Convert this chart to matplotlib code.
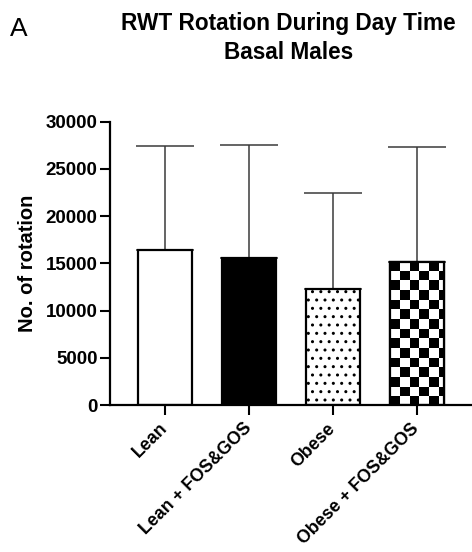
import numpy as np
import matplotlib
matplotlib.use('Agg')
import matplotlib.pyplot as plt

plt.rcParams['font.family'] = ['Liberation Sans', 'DejaVu Sans']
plt.rcParams['hatch.linewidth'] = 1.0

# values
groups = ['Lean', 'Lean + FOS&GOS', 'Obese', 'Obese + FOS&GOS']
means = [16400, 15550, 12250, 15150]
err_tops = [27450, 27550, 22500, 27350]
yticks = [0, 5000, 10000, 15000, 20000, 25000, 30000]

fig = plt.figure(figsize=(4.72, 5.52), dpi=100)
ax = fig.add_axes([0.233, 0.2663, 0.767, 0.5132])

x = np.arange(len(groups))
width = 0.645
errs = [t - m for t, m in zip(err_tops, means)]

# error bars (upper only)
ax.errorbar(x, means, yerr=[np.zeros(len(means)), errs], fmt='none',
            ecolor='#3a3a3a', elinewidth=1.1, capsize=21, capthick=1.1, zorder=1)

faces = ['white', 'black', 'white', 'white']
hatches = [None, None, '..', None]
bars = ax.bar(x, means, width=width, color=faces, edgecolor='black',
              linewidth=1.6, zorder=2)
for b, h in zip(bars, hatches):
    if h:
        b.set_hatch(h)

# checkerboard fill for the last bar
b = bars[3]
sq_w = 9.6 / 83.8
sq_h = 9.6 * 105.9
bx, by, bw, bh = b.get_x(), b.get_y(), b.get_width(), b.get_height()
nx = int(np.ceil(bw / sq_w))
ny = int(np.ceil(bh / sq_h))
checker = (np.add.outer(np.arange(ny), np.arange(nx)) % 2 == 0).astype(float)
img = ax.imshow(checker, cmap='gray_r', vmin=0, vmax=1, aspect='auto',
                interpolation='nearest', origin='upper',
                extent=[bx, bx + nx * sq_w, by + bh - ny * sq_h, by + bh],
                zorder=2.1)
img.set_clip_path(b)
ax.bar([x[3]], [means[3]], width=width, facecolor='none', edgecolor='black',
       linewidth=1.6, zorder=2.2)

ax.set_xlim(-0.662, 3.66)
ax.set_ylim(0, 30000)
ax.set_yticks(yticks)
ax.set_yticklabels([str(v) for v in yticks], fontweight='bold', fontsize=13.5)
ax.set_xticks(x)
ax.set_xticklabels(groups, rotation=45, ha='right', va='center',
                   rotation_mode='anchor', fontweight='bold', fontsize=12.8)
ax.tick_params(axis='both', length=7, width=1.5, color='black')
ax.tick_params(axis='x', pad=8)
ax.tick_params(axis='y', pad=2)

for s in ['top', 'right']:
    ax.spines[s].set_visible(False)
for s in ['left', 'bottom']:
    ax.spines[s].set_linewidth(1.6)

ax.set_ylabel('No. of rotation', fontweight='bold', fontsize=14.5, labelpad=6)

fig.text(0.611, 0.931, 'RWT Rotation During Day Time\nBasal Males',
         ha='center', va='center', fontsize=16.3, fontweight='bold',
         linespacing=1.3)
fig.text(0.022, 0.948, 'A', ha='left', va='center', fontsize=19)

fig.savefig('out.png', dpi=100)
